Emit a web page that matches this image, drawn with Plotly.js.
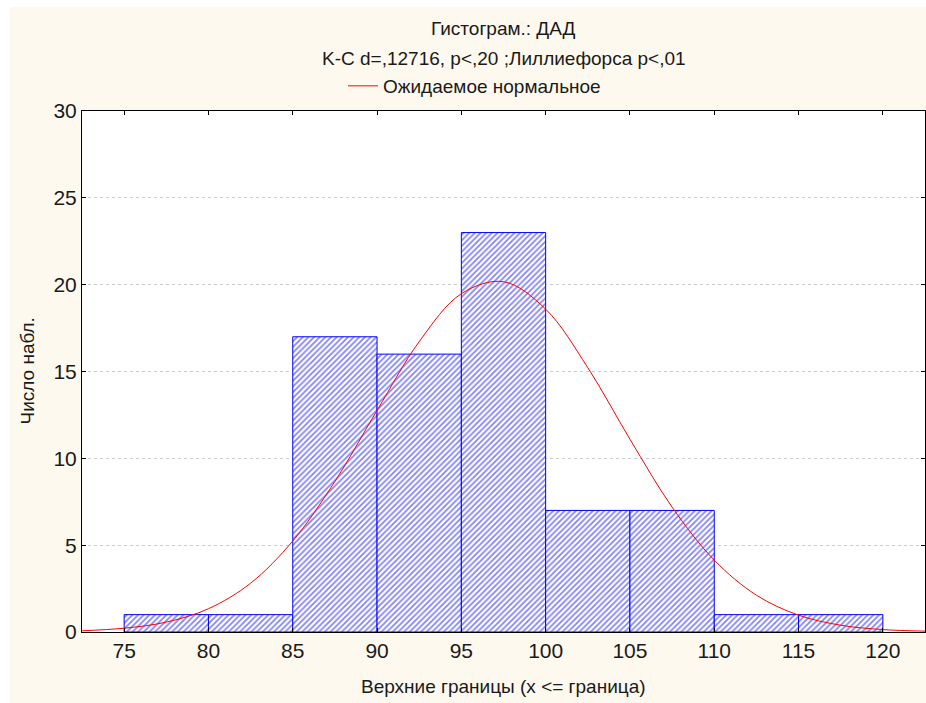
<!DOCTYPE html>
<html>
<head>
<meta charset="utf-8">
<script src="https://cdn.plot.ly/plotly-3.0.1.min.js"></script>
<style>
html,body{margin:0;padding:0;background:#ffffff;}
#chart{position:absolute;left:10px;top:7px;width:916px;height:696px;}
</style>
</head>
<body>
<div id="chart"></div>
<script>
// Histogram bins (upper bounds) and counts
var binUpper = [80, 85, 90, 95, 100, 105, 110, 115, 120];
var counts   = [1, 1, 17, 16, 23, 7, 7, 1, 1];
var binWidth = 5;

// Expected normal curve
var curveX = [72.5, 75, 77.5, 80, 82.5, 85, 87.5, 90, 92.5, 95, 97.5, 100, 102.5, 105, 107.5, 110, 112.5, 115, 117.5, 120, 122.5];
var curveY = [0.07, 0.22, 0.57, 1.34, 2.81, 5.24, 8.67, 12.76, 16.72, 19.48, 20.17, 18.59, 15.22, 11.1, 7.19, 4.14, 2.12, 0.97, 0.39, 0.14, 0.05];

var xTicks = [75, 80, 85, 90, 95, 100, 105, 110, 115, 120];
var yTicks = [0, 5, 10, 15, 20, 25, 30];

var titleLine1 = "Гистограм.: ДАД";
var titleLine2 = "K-C d=,12716, p&lt;,20 ;Лиллиефорса p&lt;,01";
var legendName = "Ожидаемое нормальное";
var xTitle = "Верхние границы (x &lt;= граница)";
var yTitle = "Число набл.";

var centers = binUpper.map(function(u){ return u - binWidth/2; });

var FONT = "Liberation Sans, Arial, sans-serif";
var TXT = "#1a1a1a";

var bars = {
  type: "bar",
  x: centers,
  y: counts,
  width: binWidth,
  showlegend: false,
  hoverinfo: "skip",
  marker: {
    color: "#ffffff",
    line: {color: "#0000ff", width: 1},
    pattern: {shape: "/", fgcolor: "#0000ff", bgcolor: "#ffffff", size: 4, solidity: 0.42, fillmode: "overlay"}
  }
};

var curve = {
  type: "scatter",
  mode: "lines",
  x: curveX,
  y: curveY,
  name: legendName,
  line: {color: "#ff0000", width: 1, shape: "spline"},
  showlegend: true
};

var layout = {
  width: 916,
  height: 696,
  paper_bgcolor: "#fdf9ee",
  plot_bgcolor: "#ffffff",
  margin: {l: 72, r: 1, t: 104, b: 71},
  font: {family: FONT, size: 18, color: TXT},
  bargap: 0,
  showlegend: true,
  legend: {
    orientation: "h",
    x: (343 - 82) / 843, xanchor: "left",
    y: 1.048, yanchor: "middle",
    bgcolor: "rgba(0,0,0,0)",
    font: {family: FONT, size: 19, color: TXT},
    itemwidth: 30
  },
  xaxis: {
    range: [72.5, 122.5],
    tickvals: xTicks,
    ticktext: xTicks.map(String),
    ticks: "inside",
    ticklen: 4,
    tickcolor: "#000000",
    showgrid: false,
    zeroline: false,
    showline: true,
    linecolor: "#000000",
    linewidth: 1,
    mirror: "ticks",
    tickfont: {family: FONT, size: 21, color: TXT}
  },
  yaxis: {
    range: [0, 30],
    tickvals: yTicks,
    ticks: "inside",
    ticklen: 4,
    tickcolor: "#000000",
    showgrid: true,
    gridcolor: "#cccccc",
    griddash: "dot",
    gridwidth: 1,
    zeroline: false,
    showline: true,
    linecolor: "#000000",
    linewidth: 1,
    mirror: "ticks",
    tickfont: {family: FONT, size: 21, color: TXT}
  },
  annotations: [
    {text: titleLine1, xref: "paper", yref: "paper", x: 0.5, y: 1 + 83/521, xanchor: "center", yanchor: "middle", showarrow: false, font: {family: FONT, size: 19, color: TXT}},
    {text: titleLine2, xref: "paper", yref: "paper", x: 0.5, y: 1 + 53/521, xanchor: "center", yanchor: "middle", showarrow: false, font: {family: FONT, size: 19, color: TXT}},
    {text: xTitle, xref: "paper", yref: "paper", x: 0.5, y: -54/521, xanchor: "center", yanchor: "middle", showarrow: false, font: {family: FONT, size: 19, color: TXT}},
    {text: yTitle, xref: "paper", yref: "paper", x: -55/843, y: 0.5, xanchor: "center", yanchor: "middle", textangle: -90, showarrow: false, font: {family: FONT, size: 19, color: TXT}}
  ]
};

Plotly.newPlot("chart", [bars, curve], layout, {displayModeBar: false, staticPlot: true});
</script>
</body>
</html>
